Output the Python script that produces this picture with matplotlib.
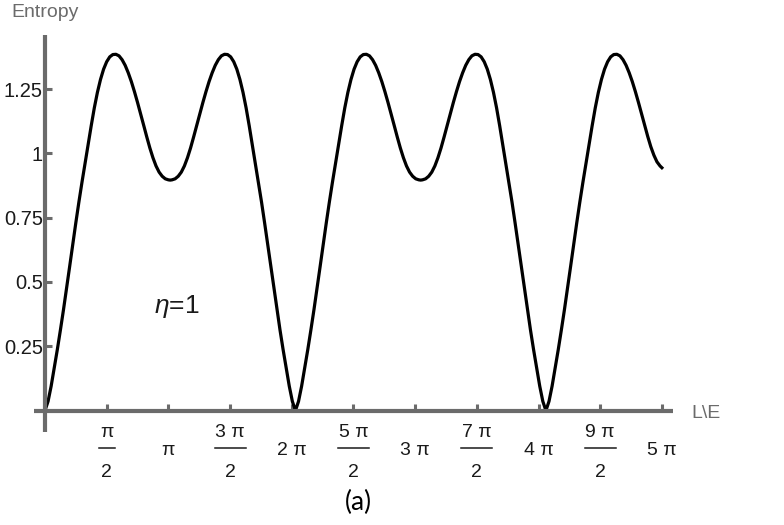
import numpy as np
import matplotlib
matplotlib.use("Agg")
import matplotlib.pyplot as plt
import matplotlib.transforms as mtransforms
from matplotlib.lines import Line2D

plt.rcParams['font.family'] = ['Liberation Sans', 'DejaVu Sans']
plt.rcParams['mathtext.fontset'] = 'custom'
plt.rcParams['mathtext.rm'] = 'Liberation Sans'
plt.rcParams['mathtext.it'] = 'Liberation Sans:italic'

# ── data (x in units of pi) ───────────────────────────────────
le_over_pi = [
    # 0 -> first minimum
    0.000, 0.025, 0.050, 0.075, 0.100, 0.125, 0.150, 0.175, 0.200, 0.225, 0.250,
    0.275, 0.300, 0.325, 0.350, 0.375, 0.400, 0.425, 0.450, 0.475, 0.500, 0.525,
    0.550, 0.575, 0.600, 0.625, 0.650, 0.675, 0.700, 0.725, 0.750, 0.775, 0.800,
    0.825, 0.850, 0.875, 0.900, 0.925, 0.950, 0.975, 1.000, 1.015,
    # -> 2 pi zero
    1.030, 1.055, 1.080, 1.105, 1.130, 1.155, 1.180, 1.205, 1.230, 1.255, 1.280,
    1.305, 1.330, 1.355, 1.380, 1.405, 1.430, 1.455, 1.480, 1.505, 1.530, 1.555,
    1.580, 1.605, 1.630, 1.655, 1.680, 1.705, 1.730, 1.755, 1.780, 1.805, 1.830,
    1.855, 1.880, 1.905, 1.930, 1.955, 1.980, 2.005, 2.030,
    # -> 3 pi minimum
    2.055, 2.080, 2.105, 2.130, 2.155, 2.180, 2.205, 2.230, 2.255, 2.280, 2.305,
    2.330, 2.355, 2.380, 2.405, 2.430, 2.455, 2.480, 2.505, 2.530, 2.555, 2.580,
    2.605, 2.630, 2.655, 2.680, 2.705, 2.730, 2.755, 2.780, 2.805, 2.830, 2.855,
    2.880, 2.905, 2.930, 2.955, 2.980, 3.005, 3.030, 3.045,
    # -> 4 pi zero
    3.060, 3.085, 3.110, 3.135, 3.160, 3.185, 3.210, 3.235, 3.260, 3.285, 3.310,
    3.335, 3.360, 3.385, 3.410, 3.435, 3.460, 3.485, 3.510, 3.535, 3.560, 3.585,
    3.610, 3.635, 3.660, 3.685, 3.710, 3.735, 3.760, 3.785, 3.810, 3.835, 3.860,
    3.885, 3.910, 3.935, 3.960, 3.985, 4.010, 4.035, 4.060,
    # -> 5 pi end
    4.085, 4.110, 4.135, 4.160, 4.185, 4.210, 4.235, 4.260, 4.285, 4.310, 4.335,
    4.360, 4.385, 4.410, 4.435, 4.460, 4.485, 4.510, 4.535, 4.560, 4.585, 4.610,
    4.635, 4.660, 4.685, 4.710, 4.735, 4.760, 4.785, 4.810, 4.835, 4.860, 4.885,
    4.910, 4.935, 4.960, 4.985, 5.000,
]
entropy = [
    0.000, 0.036, 0.095, 0.165, 0.237, 0.313, 0.392, 0.475, 0.560, 0.646, 0.730,
    0.811, 0.888, 0.962, 1.034, 1.108, 1.177, 1.237, 1.287, 1.327, 1.356, 1.375,
    1.384, 1.385, 1.379, 1.364, 1.342, 1.313, 1.279, 1.240, 1.198, 1.154, 1.109,
    1.064, 1.021, 0.983, 0.951, 0.927, 0.911, 0.901, 0.897, 0.896,
    0.897, 0.901, 0.911, 0.927, 0.951, 0.983, 1.021, 1.064, 1.109, 1.154, 1.198,
    1.240, 1.279, 1.313, 1.342, 1.364, 1.379, 1.385, 1.384, 1.375, 1.356, 1.327,
    1.287, 1.237, 1.177, 1.108, 1.034, 0.962, 0.888, 0.811, 0.730, 0.646, 0.560,
    0.475, 0.392, 0.313, 0.237, 0.165, 0.095, 0.036, 0.000,
    0.036, 0.095, 0.165, 0.237, 0.313, 0.392, 0.475, 0.560, 0.646, 0.730, 0.811,
    0.888, 0.962, 1.034, 1.108, 1.177, 1.237, 1.287, 1.327, 1.356, 1.375, 1.384,
    1.385, 1.379, 1.364, 1.342, 1.313, 1.279, 1.240, 1.198, 1.154, 1.109, 1.064,
    1.021, 0.983, 0.951, 0.927, 0.911, 0.901, 0.897, 0.896,
    0.897, 0.901, 0.911, 0.927, 0.951, 0.983, 1.021, 1.064, 1.109, 1.154, 1.198,
    1.240, 1.279, 1.313, 1.342, 1.364, 1.379, 1.385, 1.384, 1.375, 1.356, 1.327,
    1.287, 1.237, 1.177, 1.108, 1.034, 0.962, 0.888, 0.811, 0.730, 0.646, 0.560,
    0.475, 0.392, 0.313, 0.237, 0.165, 0.095, 0.036, 0.000,
    0.036, 0.095, 0.165, 0.237, 0.313, 0.392, 0.475, 0.560, 0.646, 0.730, 0.811,
    0.888, 0.962, 1.034, 1.108, 1.177, 1.237, 1.287, 1.327, 1.356, 1.375, 1.384,
    1.385, 1.379, 1.364, 1.342, 1.313, 1.279, 1.240, 1.198, 1.154, 1.109, 1.066,
    1.026, 0.993, 0.967, 0.951, 0.944,
]

ytick_vals = [0.25, 0.5, 0.75, 1.0, 1.25]
ytick_labels = ["0.25", "0.5", "0.75", "1", "1.25"]
xtick_halfpi = [1, 2, 3, 4, 5, 6, 7, 8, 9, 10]
xtick_num = ["π", "π", "3 π", "2 π", "5 π", "3 π", "7 π", "4 π", "9 π", "5 π"]
xtick_den = ["2", "", "2", "", "2", "", "2", "", "2", ""]

gray = "#6b6b6b"
txt = "#1a1a1a"
W, H = 784, 525

fig = plt.figure(figsize=(W / 100, H / 100), dpi=100)
ax = fig.add_axes([33.5 / W, 1 - 431.7 / H, (673 - 33.5) / W, (431.7 - 35) / H])

x = np.array(le_over_pi) * np.pi
ax.plot(x, entropy, color="black", lw=2.3, solid_joinstyle="round")

ax.set_xlim(-0.093 * np.pi, 5.09 * np.pi)
ax.set_ylim(-0.082, 1.46)

for s in ["top", "right"]:
    ax.spines[s].set_visible(False)
for s in ["left", "bottom"]:
    ax.spines[s].set_position(("data", 0))
    ax.spines[s].set_color(gray)
    ax.spines[s].set_linewidth(3)
    ax.spines[s].set_capstyle("butt")

ax.set_yticks(ytick_vals)
ax.set_yticklabels(ytick_labels)
ax.tick_params(axis="y", direction="in", length=5, width=2.2, color=gray,
               labelsize=14.5, pad=1.5, labelcolor=txt)
ax.set_xticks(np.array(xtick_halfpi) * np.pi / 2)
ax.set_xticklabels([])
ax.tick_params(axis="x", direction="in", length=5, width=2.2, color=gray)

# x tick labels, Mathematica style fractions
blend = mtransforms.blended_transform_factory(ax.transData, fig.transFigure)
px_per_unit = (673 - 33.5) / ((5.09 + 0.093) * np.pi)
for k, num, den in zip(xtick_halfpi, xtick_num, xtick_den):
    xp = k * np.pi / 2
    if den:
        ax.text(xp, 1 - 437 / H, num, transform=blend, ha="center", va="baseline",
                fontsize=14, color=txt)
        ax.text(xp, 1 - 477 / H, den, transform=blend, ha="center", va="baseline",
                fontsize=14, color=txt)
        hw = (8 if len(num) == 1 else 15.5) / px_per_unit
        ax.add_line(Line2D([xp - hw, xp + hw], [1 - 448 / H, 1 - 448 / H],
                           transform=blend, color=txt, lw=1.1, clip_on=False))
    else:
        ax.text(xp, 1 - 455 / H, num, transform=blend, ha="center", va="baseline",
                fontsize=14, color=txt)

fig.text(11.7 / W, 1 - 16.7 / H, "Entropy", ha="left", va="baseline",
         fontsize=14, color=gray)
fig.text(691 / W, 1 - 418 / H, "L\\E", ha="left", va="baseline",
         fontsize=14, color=gray)
fig.text(154 / W, 1 - 313 / H, r"$\eta$=1", ha="left", va="baseline",
         fontsize=19, color=txt)
fig.text(358 / W, 1 - 510 / H, "(a)", ha="center", va="baseline",
         fontsize=19, color="black", family=["Lato", "DejaVu Sans"])

fig.savefig("out.png", dpi=100)
